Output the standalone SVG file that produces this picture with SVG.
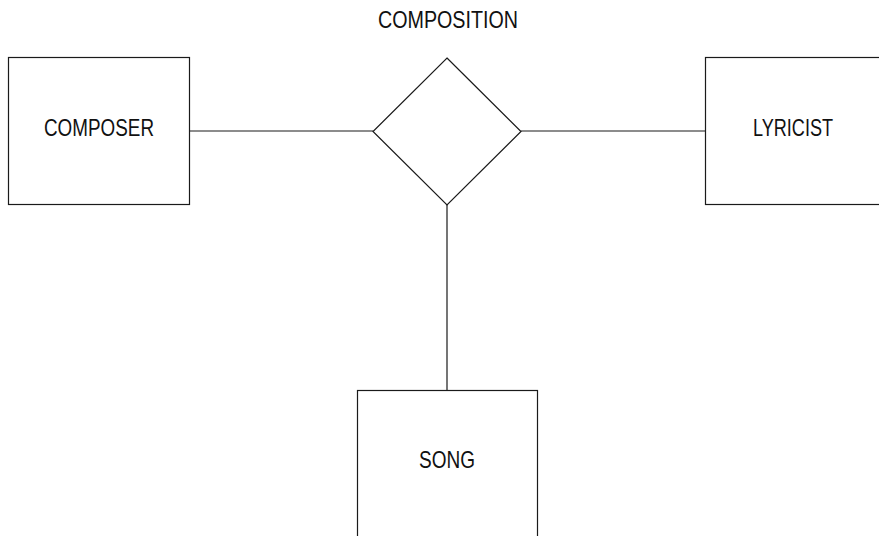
<svg xmlns="http://www.w3.org/2000/svg" width="879" height="536" viewBox="0 0 879 536">
<style>
.box{fill:#fff;stroke:#1a1a1a;stroke-width:1.2}
.ln{stroke:#1a1a1a;stroke-width:1.2;fill:none}
.t{font-family:"Liberation Sans",Arial,sans-serif;font-size:24px;fill:#111}
</style>
<rect width="879" height="536" fill="#fff"/>
<g id="connectors">
<line class="ln" x1="189.5" y1="131" x2="373" y2="131"/>
<line class="ln" x1="521" y1="131" x2="705" y2="131"/>
<line class="ln" x1="447" y1="205" x2="447" y2="390"/>
</g>
<g id="composer">
<rect class="box" x="8.5" y="57.5" width="181" height="147"/>
<text class="t" x="44" y="135.5" textLength="110" lengthAdjust="spacingAndGlyphs">COMPOSER</text>
</g>
<g id="composition">
<polygon class="box" points="447,58 521,131.5 447,205 373,131.5"/>
<text class="t" x="378" y="27.5" textLength="140" lengthAdjust="spacingAndGlyphs">COMPOSITION</text>
</g>
<g id="lyricist">
<rect class="box" x="705.5" y="57.5" width="181" height="147"/>
<text class="t" x="753" y="135.5" textLength="80" lengthAdjust="spacingAndGlyphs">LYRICIST</text>
</g>
<g id="song">
<rect class="box" x="357.5" y="390.5" width="180" height="147"/>
<text class="t" x="419" y="468" textLength="56" lengthAdjust="spacingAndGlyphs">SONG</text>
</g>
</svg>
